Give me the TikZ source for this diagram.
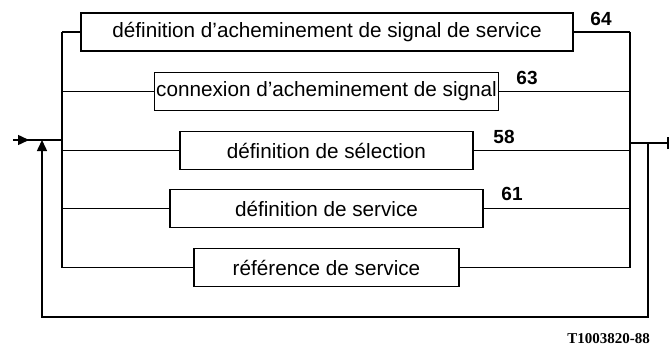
\documentclass[tikz,border=0pt]{standalone}
\usepackage{fontspec}
\setmainfont{Liberation Sans}
\newfontfamily\codefont{Liberation Serif}
\usetikzlibrary{arrows.meta}
\begin{document}
\begin{tikzpicture}[x=1pt,y=-1pt,
  line/.style={line width=1.5pt},
  blk/.style={draw, line width=1.7pt, minimum height=38pt, inner sep=0pt,
    font=\fontsize{20.7}{24}\selectfont},
  num/.style={font=\fontsize{19}{22}\selectfont\bfseries},
  tip/.style={-{Triangle[length=11pt,width=10pt]}}]
\useasboundingbox (0,0) rectangle (670,353);
% boxes
\node[blk, minimum width=492pt] (b1) at (327,32) {définition d'acheminement de signal de service};
\node[blk, minimum width=344pt] (b2) at (326.5,91.5) {connexion d'acheminement de signal};
\node[blk, minimum width=293pt] (b3) at (326.5,150.5) {définition de sélection};
\node[blk, minimum width=313pt] (b4) at (326.5,208.5) {définition de service};
\node[blk, minimum width=265pt] (b5) at (326.5,267.5) {référence de service};
% bus positions
\coordinate (lb) at (62,0);
\coordinate (rb) at (630,0);
% left bus
\draw[line] (b1.west -| lb) -- (b5.west -| lb);
\foreach \b in {b1,b2,b3,b4,b5}{
  \draw[line] (\b.west -| lb) -- (\b.west);
  \draw[line] (\b.east) -- (\b.east -| rb);
}
% right bus
\draw[line] (b1.east -| rb) -- (b5.east -| rb);
% input
\coordinate (in) at (13,140);
\coordinate (inarr) at (29,140);
\coordinate (injoin) at (62,140);
\draw[line] (in) -- (injoin);
\draw[line, tip] (in) -- (inarr);
% output and feedback
\coordinate (outj) at (630,143);
\coordinate (fbj) at (648,143);
\coordinate (outend) at (668,143);
\coordinate (fbb) at (648,317);
\coordinate (fbl) at (42,317);
\coordinate (fbt) at (42,140);
\draw[line] (outj) -- (outend);
\draw[line] ([yshift=-6pt]outend) -- ([yshift=6pt]outend);
\draw[line, tip] (fbj) -- (fbb) -- (fbl) -- (fbt);
% labels
\node[num] (n64) at (601,19) {64};
\node[num] (n63) at (527,78) {63};
\node[num] (n58) at (504,136.5) {58};
\node[num] (n61) at (512,194) {61};
\node[font=\codefont\bfseries\fontsize{15}{17}\selectfont] (code) at (608.5,339) {T1003820-88};
\end{tikzpicture}
\end{document}
